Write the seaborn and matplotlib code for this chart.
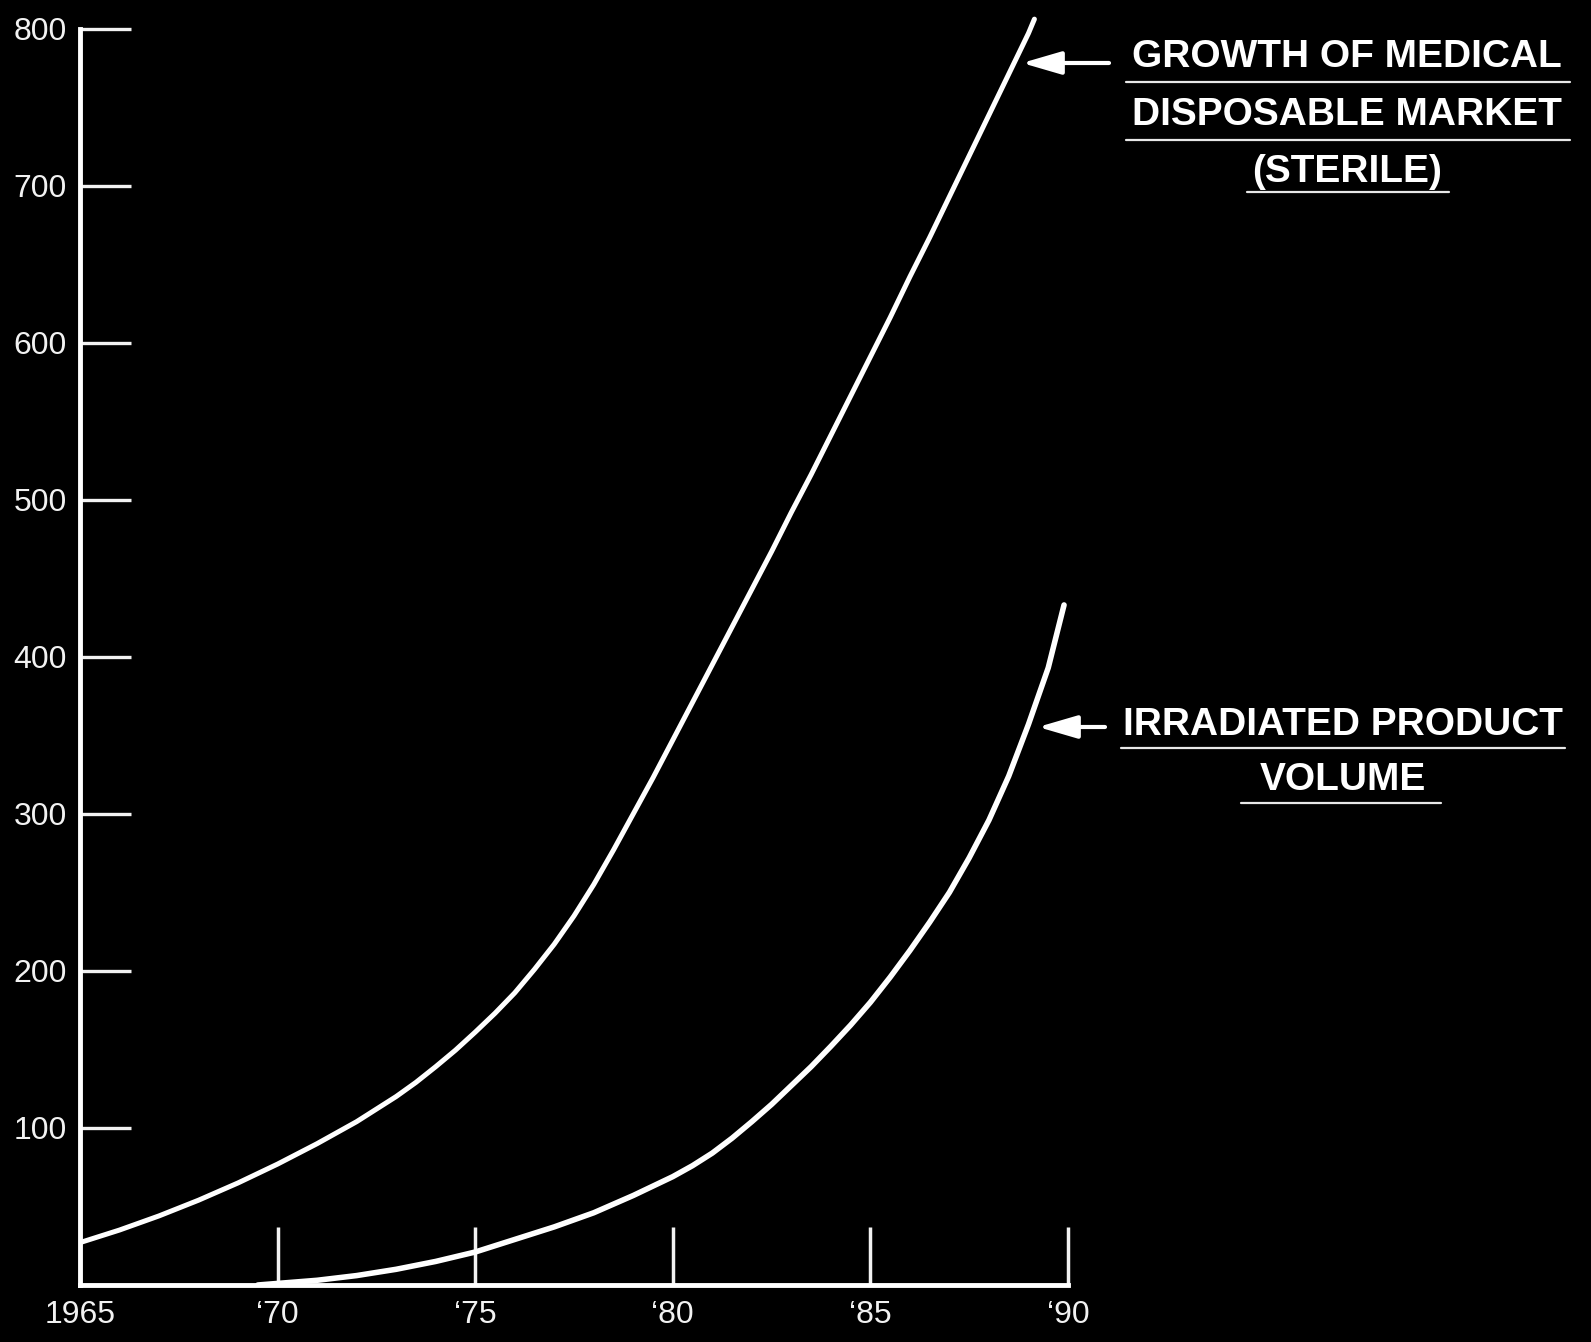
import matplotlib
matplotlib.use("Agg")
import matplotlib.pyplot as plt
from matplotlib.lines import Line2D
from matplotlib.patches import FancyArrowPatch
import pandas as pd
import seaborn as sns

# values (half-year steps)
market_years = [1965, 1965.5, 1966, 1966.5, 1967, 1967.5, 1968, 1968.5, 1969, 1969.5,
                1970, 1970.5, 1971, 1971.5, 1972, 1972.5, 1973, 1973.5, 1974, 1974.5,
                1975, 1975.5, 1976, 1976.5, 1977, 1977.5, 1978, 1978.5, 1979, 1979.5,
                1980, 1980.5, 1981, 1981.5, 1982, 1982.5, 1983, 1983.5, 1984, 1984.5,
                1985, 1985.5, 1986, 1986.5, 1987, 1987.5, 1988, 1988.5, 1989, 1989.15]
market_values = [27, 31, 35, 39.5, 44, 49, 54, 59.5, 65, 71,
                 77, 83.5, 90, 97, 104, 112, 120, 129, 139, 149.5,
                 161, 173, 186, 201, 217, 235, 255, 277, 300, 323,
                 347, 371, 395, 419, 443, 467, 492, 516, 541, 566,
                 591, 616, 642, 667, 693, 719, 745, 771, 797, 806]

irradiated_years = [1969.5, 1970, 1970.5, 1971, 1971.5, 1972, 1972.5, 1973, 1973.5, 1974,
                    1974.5, 1975, 1975.5, 1976, 1976.5, 1977, 1977.5, 1978, 1978.5, 1979,
                    1979.5, 1980, 1980.5, 1981, 1981.5, 1982, 1982.5, 1983, 1983.5, 1984,
                    1984.5, 1985, 1985.5, 1986, 1986.5, 1987, 1987.5, 1988, 1988.5, 1989,
                    1989.5, 1989.9]
irradiated_values = [0, 1, 2, 3, 4.5, 6, 8, 10, 12.5, 15,
                     18, 21, 25, 29, 33, 37, 41.5, 46, 51.5, 57,
                     63, 69, 76, 84, 93.5, 104, 115, 127, 139, 152,
                     165.5, 180, 196, 213, 231, 250, 272, 296, 324, 357,
                     393, 433]

y_ticks = [100, 200, 300, 400, 500, 600, 700, 800]
x_ticks = [1965, 1970, 1975, 1980, 1985, 1990]
x_tick_labels = ["1965", "\u201870", "\u201875", "\u201880", "\u201885", "\u201890"]

market_label = ["GROWTH OF MEDICAL", "DISPOSABLE MARKET", "(STERILE)"]
irradiated_label = ["IRRADIATED PRODUCT", "VOLUME"]

market = pd.DataFrame({"year": market_years, "value": market_values})
irradiated = pd.DataFrame({"year": irradiated_years, "value": irradiated_values})

sns.set_style("dark", {"axes.facecolor": "black", "figure.facecolor": "black"})
plt.rcParams["font.family"] = ["Liberation Sans", "DejaVu Sans"]

W, H = 1591, 1342
fig = plt.figure(figsize=(W / 100, H / 100), dpi=100, facecolor="black")
ax = fig.add_axes([80 / W, 57 / H, (1068 - 80) / W, 1280 / H])
ax.set_facecolor("black")

sns.lineplot(data=market, x="year", y="value", ax=ax, color="white", lw=3.6,
             solid_joinstyle="round", solid_capstyle="round")
sns.lineplot(data=irradiated, x="year", y="value", ax=ax, color="white", lw=4.0,
             solid_joinstyle="round", solid_capstyle="round")

ax.set_xlim(1965, 1990)
ax.set_ylim(0, 815)
ax.set_xlabel("")
ax.set_ylabel("")
ax.grid(False)

ax.set_yticks(y_ticks)
ax.set_yticklabels([str(v) for v in y_ticks])
ax.set_xticks(x_ticks)
ax.set_xticklabels(x_tick_labels)
ax.tick_params(axis="y", left=True, direction="in", length=37, width=2.4, pad=9.5,
               labelsize=23, colors="#f2f2f2")
ax.tick_params(axis="x", bottom=True, direction="in", length=42, width=2.5, pad=11,
               labelsize=23, colors="#f2f2f2")
# the 1965 tick sits on the y axis, hide its mark
ax.xaxis.get_major_ticks()[0].tick1line.set_visible(False)

for side in ["top", "right"]:
    ax.spines[side].set_visible(False)
for side in ["left", "bottom"]:
    ax.spines[side].set_color("white")
    ax.spines[side].set_linewidth(3.5)
ax.spines["left"].set_bounds(0, 800)


def fx(px):
    return px / W


def fy(py):
    return 1 - py / H


def label_block(lines, cx, centers, rules):
    for txt, cy in zip(lines, centers):
        fig.text(fx(cx), fy(cy), txt, color="white", fontsize=28, fontweight="bold",
                 ha="center", va="center")
    for x0, x1, y in rules:
        fig.add_artist(Line2D([fx(x0), fx(x1)], [fy(y), fy(y)], color="#e8e8e8", lw=1.6,
                              transform=fig.transFigure))


def arrow(x_tail, x_tip, y):
    fig.add_artist(FancyArrowPatch((fx(x_tail), fy(y)), (fx(x_tip), fy(y)),
                                   transform=fig.transFigure, color="white", lw=3,
                                   arrowstyle="-|>,head_length=1.2,head_width=0.35",
                                   mutation_scale=20, shrinkA=0, shrinkB=0))


label_block(market_label, 1347, [57, 115, 172],
            [(1126, 1570, 82), (1126, 1570, 140), (1247, 1449, 192)])
arrow(1109, 1022, 63)

label_block(irradiated_label, 1343, [725, 780],
            [(1121, 1565, 748), (1241, 1441, 803)])
arrow(1105, 1038, 727)

fig.savefig("out.png", dpi=100, facecolor="black")
